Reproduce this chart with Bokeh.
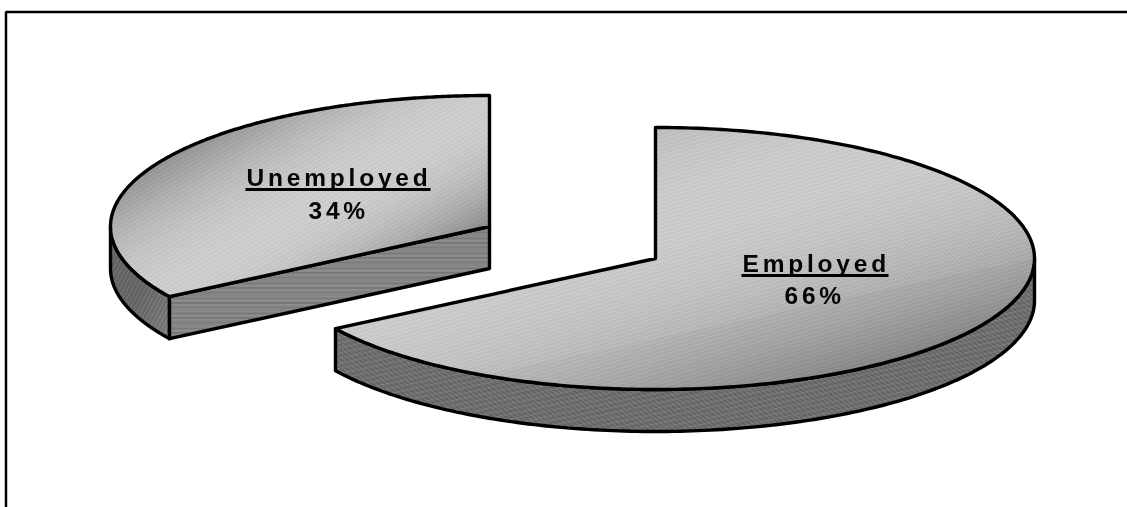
import numpy as np
from bokeh.plotting import figure
from bokeh.models import Range1d
from bokeh.core.properties import value
from bokeh.embed import file_html
from bokeh.resources import INLINE

CATEGORIES = ["Employed", "Unemployed"]
SHARES = [66, 34]
LABELS = ["66%", "34%"]

W, H = 1127, 507
RX, RY, DEPTH = 379, 131, 42
CENTERS = {"Employed": (655, 258), "Unemployed": (489, 226)}
# name x, name baseline, pct x, pct baseline, underline start, underline end
LABEL_POS = {"Employed": (742, 273, 784, 305, 741, 888),
             "Unemployed": (246, 187, 308, 220, 245, 430)}
# gradient: normal angle (deg from vertical), t of lightest band, half widths, lightest, darkest
GRAD = {"Employed": (17, 400, 165, 190, 198, 140),
        "Unemployed": (30, 335, 125, 105, 200, 128)}


def pt(c, th, dy=0):
    return c[0] + RX * np.sin(th), c[1] - RY * np.cos(th) + dy


def arc(c, a, b, dy=0, n=160):
    th = np.linspace(a, b, n)
    x, y = pt(c, th, dy)
    return [float(v) for v in x], [float(v) for v in y]


def clip(xs, ys, n, lim, keep_above):
    out_x, out_y = [], []
    m = len(xs)
    for i in range(m):
        x0, y0, x1, y1 = xs[i], ys[i], xs[(i + 1) % m], ys[(i + 1) % m]
        d0 = n[0] * x0 + n[1] * y0 - lim
        d1 = n[0] * x1 + n[1] * y1 - lim
        if not keep_above:
            d0, d1 = -d0, -d1
        if d0 >= 0:
            out_x.append(x0)
            out_y.append(y0)
        if d0 * d1 < 0:
            s = d0 / (d0 - d1)
            out_x.append(x0 + s * (x1 - x0))
            out_y.append(y0 + s * (y1 - y0))
    return out_x, out_y


def bands(xs, ys, ang, shade, step=1.25, every=3, boost=9):
    a = np.radians(ang)
    n = (np.sin(a), np.cos(a))
    t = n[0] * np.array(xs) + n[1] * np.array(ys)
    px, py, col = [], [], []
    k = int(np.floor(t.min() / step))
    while k * step < t.max():
        lo = k * step
        bx, by = clip(xs, ys, n, lo, True)
        if len(bx) > 2:
            bx, by = clip(bx, by, n, lo + step, False)
        if len(bx) > 2:
            g = shade(lo) + (boost if k % every == 0 else 0)
            g = int(np.clip(g, 0, 255))
            px.append(bx)
            py.append(by)
            col.append(f"#{g:02x}{g:02x}{g:02x}")
        k += 1
    return px, py, col


p = figure(width=W, height=H, x_range=Range1d(0, W), y_range=Range1d(H, 0),
           x_axis_type=None, y_axis_type=None, toolbar_location=None,
           output_backend="svg", min_border=0, outline_line_color=None,
           background_fill_color="white", border_fill_color="white")
p.grid.visible = False
p.styles = {"position": "fixed", "left": "0px", "top": "0px", "letter-spacing": "3.8px"}


def fill(pieces, ang, shade, **kw):
    for xs, ys in pieces:
        px, py, col = bands(xs, ys, ang, shade, **kw)
        p.patches(px, py, fill_color=col, line_color=col, line_width=0.4)


def outline(xs, ys):
    p.patch(xs + xs[:1], ys + ys[:1], fill_color=None, line_color="black",
            line_width=3.4, line_join="round")


split = np.radians(SHARES[0] / sum(SHARES) * 360)
spans = {"Employed": (0.0, split), "Unemployed": (split, 2 * np.pi)}

for name in CATEGORIES:
    c = CENTERS[name]
    a, b = spans[name]
    # side walls
    ra, rb = max(a, np.pi / 2), min(b, 1.5 * np.pi)
    tx, ty = arc(c, ra, rb)
    bx, by = arc(c, ra, rb, DEPTH)
    rim_x, rim_y = tx + bx[::-1], ty + by[::-1]
    if name == "Employed":
        fill([(rim_x, rim_y)], 12, lambda t: 98, every=4, boost=16)
    else:
        fill([(rim_x, rim_y)], 62, lambda t: 88 + 0.55 * max(0, t - 260), every=3, boost=18)
    outline(rim_x, rim_y)
    if name == "Unemployed":
        ex, ey = pt(c, a)
        wx = [float(ex), float(c[0]), float(c[0]), float(ex)]
        wy = [float(ey), float(c[1]), float(c[1] + DEPTH), float(ey + DEPTH)]
        fill([(wx, wy)], 0, lambda t: 120, every=3, boost=14)
        outline(wx, wy)
    # top face, split in convex parts for the gradient bands
    ang, mid, up, down, light, dark = GRAD[name]
    cuts = [a] + ([a + np.pi] if b - a > np.pi else []) + [b]
    pieces = []
    for u, v in zip(cuts[:-1], cuts[1:]):
        ax, ay = arc(c, u, v, n=200)
        pieces.append((ax + [float(c[0])], ay + [float(c[1])]))

    def shade(t, mid=mid, up=up, down=down, light=light, dark=dark):
        u = (t - mid) / (down if t > mid else up)
        return light - (light - dark) * min(1.2, abs(u)) ** 2
    fill(pieces, ang, shade)
    fx, fy = arc(c, a, b, n=260)
    outline(fx + [float(c[0])], fy + [float(c[1])])

# labels
for name, pct in zip(CATEGORIES, LABELS):
    x1, y1, x2, y2, u0, u1 = LABEL_POS[name]
    p.text([x1], [y1], text=[name], text_font=value("Liberation Sans"), y_offset=-10,
           text_font_style="bold", text_font_size="24.5px", text_align="left",
           text_baseline="alphabetic", text_color="#050505")
    p.text([x2], [y2], text=[pct], text_font=value("Liberation Sans"), y_offset=-10,
           text_font_style="bold", text_font_size="24.5px", text_align="left",
           text_baseline="alphabetic", text_color="#050505")
    p.line([u0, u1], [y1 + 2, y1 + 2], line_color="black", line_width=3)

# frame
p.line([5.5, 5.5, W + 5], [H + 5, 11.5, 11.5], line_color="black", line_width=2.5)

open("out.html", "w").write(file_html(p, INLINE))
